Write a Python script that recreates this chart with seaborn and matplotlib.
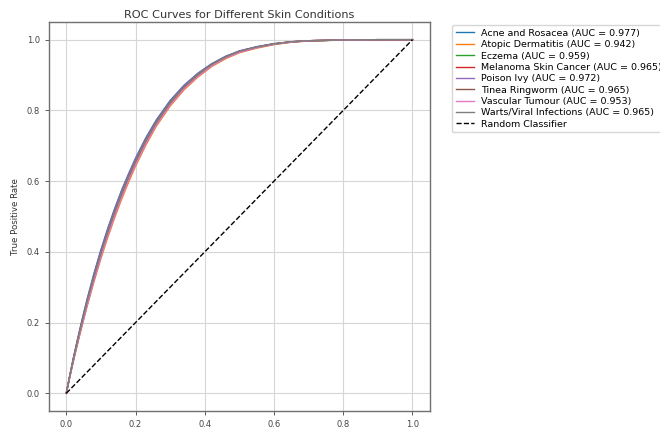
import pandas as pd
import matplotlib
matplotlib.use('Agg')
import matplotlib.pyplot as plt
import seaborn as sns

# false positive rate grid
fpr = [0.0, 0.01, 0.02, 0.03, 0.04, 0.05, 0.06, 0.08, 0.10, 0.12, 0.14, 0.16, 0.18, 0.20,
       0.23, 0.26, 0.30, 0.34, 0.38, 0.42, 0.46, 0.50, 0.55, 0.60, 0.65, 0.70, 0.80, 0.90, 1.00]

# true positive rate per condition, estimated from the curves
tpr_acne     = [0, 0.050, 0.098, 0.142, 0.185, 0.226, 0.266, 0.339, 0.406, 0.467, 0.523, 0.575, 0.621, 0.665,
                0.723, 0.773, 0.828, 0.871, 0.905, 0.932, 0.953, 0.968, 0.980, 0.989, 0.994, 0.997, 0.999, 1.0, 1.0]
tpr_atopic   = [0, 0.045, 0.088, 0.129, 0.169, 0.207, 0.245, 0.315, 0.381, 0.441, 0.497, 0.549, 0.597, 0.642,
                0.702, 0.755, 0.812, 0.858, 0.894, 0.924, 0.946, 0.963, 0.976, 0.986, 0.993, 0.996, 0.999, 1.0, 1.0]
tpr_eczema   = [0, 0.047, 0.091, 0.133, 0.174, 0.213, 0.251, 0.322, 0.389, 0.450, 0.506, 0.558, 0.606, 0.650,
                0.709, 0.761, 0.818, 0.863, 0.898, 0.927, 0.949, 0.965, 0.978, 0.987, 0.993, 0.997, 0.999, 1.0, 1.0]
tpr_melanoma = [0, 0.048, 0.094, 0.137, 0.179, 0.219, 0.258, 0.330, 0.397, 0.458, 0.514, 0.566, 0.613, 0.657,
                0.716, 0.767, 0.823, 0.867, 0.902, 0.930, 0.951, 0.967, 0.979, 0.988, 0.994, 0.997, 0.999, 1.0, 1.0]
tpr_poison   = [0, 0.049, 0.097, 0.141, 0.183, 0.224, 0.263, 0.336, 0.403, 0.464, 0.520, 0.572, 0.619, 0.663,
                0.721, 0.771, 0.826, 0.870, 0.904, 0.931, 0.952, 0.968, 0.980, 0.988, 0.994, 0.997, 0.999, 1.0, 1.0]
tpr_tinea    = [0, 0.048, 0.094, 0.137, 0.179, 0.219, 0.258, 0.330, 0.397, 0.458, 0.514, 0.566, 0.613, 0.657,
                0.716, 0.767, 0.823, 0.867, 0.902, 0.930, 0.951, 0.967, 0.979, 0.988, 0.994, 0.997, 0.999, 1.0, 1.0]
tpr_vascular = [0, 0.046, 0.090, 0.132, 0.172, 0.210, 0.248, 0.319, 0.385, 0.446, 0.502, 0.554, 0.602, 0.646,
                0.706, 0.758, 0.815, 0.861, 0.896, 0.926, 0.948, 0.964, 0.977, 0.987, 0.993, 0.997, 0.999, 1.0, 1.0]
tpr_warts    = [0, 0.048, 0.094, 0.137, 0.179, 0.219, 0.258, 0.330, 0.397, 0.458, 0.514, 0.566, 0.613, 0.657,
                0.716, 0.767, 0.823, 0.867, 0.902, 0.930, 0.951, 0.967, 0.979, 0.988, 0.994, 0.997, 0.999, 1.0, 1.0]

conditions = ['Acne and Rosacea', 'Atopic Dermatitis', 'Eczema', 'Melanoma Skin Cancer',
              'Poison Ivy', 'Tinea Ringworm', 'Vascular Tumour', 'Warts/Viral Infections']
aucs = [0.977, 0.942, 0.959, 0.965, 0.972, 0.965, 0.953, 0.965]
tprs = [tpr_acne, tpr_atopic, tpr_eczema, tpr_melanoma,
        tpr_poison, tpr_tinea, tpr_vascular, tpr_warts]

rows = []
for name, auc, tpr in zip(conditions, aucs, tprs):
    label = f'{name} (AUC = {auc:.3f})'
    for x, y in zip(fpr, tpr):
        rows.append({'fpr': x, 'tpr': y, 'label': label})
roc_df = pd.DataFrame(rows)

f = plt.figure(figsize=(6.6, 4.32), dpi=100)
ax = f.add_axes([0.0742, 0.0486, 0.577, 0.9005])

sns.lineplot(data=roc_df, x='fpr', y='tpr', hue='label', palette='tab10',
             sort=False, estimator=None, lw=1.0, ax=ax)
ax.plot([0, 1], [0, 1], 'k--', lw=1.0, label='Random Classifier')

ax.grid(True, color='#d6d6d6', lw=0.8)
ax.set_axisbelow(True)
for s in ax.spines.values():
    s.set_color('#707070')
    s.set_linewidth(1.0)
ax.tick_params(labelsize=6, colors='#444444', length=3, width=0.6)
ax.set_title('ROC Curves for Different Skin Conditions', fontsize=8.1, color='#333333', pad=3)
ax.set_xlabel('False Positive Rate', fontsize=6.4, color='#333333', labelpad=2)
ax.set_ylabel('True Positive Rate', fontsize=6.2, color='#333333', labelpad=5)

ax.legend(loc='upper left', bbox_to_anchor=(452 / 660, 1 - 25 / 432),
          bbox_transform=f.transFigure, fontsize=6.8, frameon=True,
          handlelength=1.9, handletextpad=0.75, labelspacing=0.25, borderaxespad=0)

f.savefig('out.png', dpi=100)
